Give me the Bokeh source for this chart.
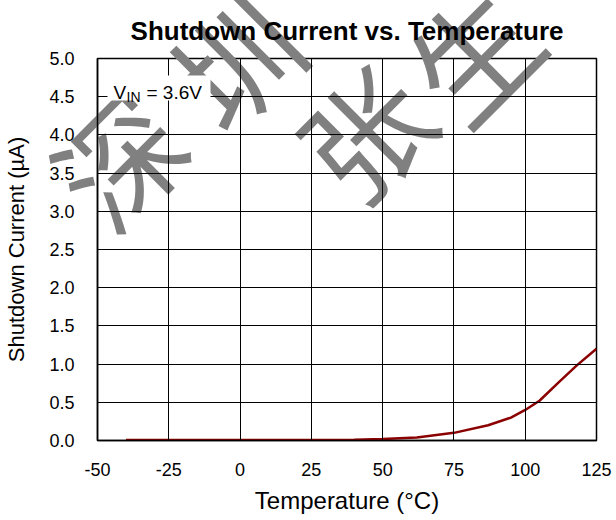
from bokeh.plotting import figure
from bokeh.models import Range1d, FixedTicker, Label, BoxAnnotation, NumeralTickFormatter
from bokeh.core.properties import value
from bokeh.embed import file_html
from bokeh.resources import INLINE

# ---- data ----
temperature_c = [-40, -25, 0, 25, 40, 50, 62, 75, 87, 95, 100, 105, 112, 118, 125]
shutdown_current_ua = [0.005, 0.005, 0.005, 0.006, 0.01, 0.02, 0.04, 0.10, 0.20, 0.30, 0.40, 0.52, 0.77, 0.98, 1.20]
x_ticks = [-50, -25, 0, 25, 50, 75, 100, 125]
y_ticks = [0.0, 0.5, 1.0, 1.5, 2.0, 2.5, 3.0, 3.5, 4.0, 4.5, 5.0]
title_text = "Shutdown Current vs. Temperature"
x_label = "Temperature (°C)"
y_label = "Shutdown Current (µA)"
watermark_chars = ["深", "圳", "张", "生"]

FONT = "Liberation Sans"
W, H = 612, 516
X0, X1, Y0, Y1 = -50, 125, 0, 5
FL, FR, FT, FB = 97, 596, 55, 443  # frame edges in canvas pixels

p = figure(width=W, height=H, output_backend="svg", toolbar_location=None,
           x_range=Range1d(X0, X1), y_range=Range1d(Y0, Y1),
           min_border_left=FL, min_border_right=W - FR, min_border_top=FT, min_border_bottom=H - FB,
           title=title_text)
p.background_fill_color = "white"
p.border_fill_color = "white"
p.outline_line_color = "black"
p.outline_line_width = 1.5

p.title.text_font = FONT
p.title.text_font_size = "26px"
p.title.text_font_style = "bold"
p.title.align = "center"
p.title.standoff = 26
p.title.text_color = "black"

for ax in (p.xaxis[0], p.yaxis[0]):
    ax.major_label_text_font = FONT
    ax.major_label_text_font_size = "18px"
    ax.major_label_text_color = "black"
    ax.axis_label_text_font = FONT
    ax.axis_label_text_font_style = "normal"
    ax.axis_label_text_color = "black"
    ax.axis_line_color = "black"
    ax.axis_line_width = 1.5
    ax.major_tick_in = 0
    ax.major_tick_out = 0
    ax.minor_tick_line_color = None

p.xaxis.ticker = FixedTicker(ticks=x_ticks)
p.yaxis.ticker = FixedTicker(ticks=y_ticks)
p.xaxis.formatter = NumeralTickFormatter(format="0")
p.yaxis.formatter = NumeralTickFormatter(format="0.0")
p.xaxis.axis_label = x_label
p.yaxis.axis_label = y_label
p.xaxis.axis_label_text_font_size = "24px"
p.yaxis.axis_label_text_font_size = "22px"
p.xaxis.major_label_standoff = 22
p.xaxis.axis_label_standoff = 8
p.yaxis.major_label_standoff = 23
p.yaxis.axis_label_standoff = 17

p.xgrid.grid_line_color = "black"
p.ygrid.grid_line_color = "black"
p.xgrid.grid_line_width = 1
p.ygrid.grid_line_width = 1
for g in (p.xgrid[0], p.ygrid[0]):
    g.level = "annotation"   # grid drawn above the watermark

# data curve
p.line(temperature_c, shutdown_current_ua, line_color="#8B0000", line_width=2.5)

# watermark (text glyph at guide level -> not clipped to the frame)
def px_to_data(px, py):
    return (X0 + (px - FL) * (X1 - X0) / (FR - FL), Y0 + (FB - py) * (Y1 - Y0) / (FB - FT))

wm_canvas = [(116, 155), (232, 55), (362, 128), (470, 48)]
wm_xy = [px_to_data(a, b) for a, b in wm_canvas]
p.text(x=[q[0] for q in wm_xy], y=[q[1] for q in wm_xy], text=watermark_chars,
       angle=45, angle_units="deg", text_font=value("Noto Sans CJK SC"),
       text_font_size=value("124px"), text_color="#808080",
       text_align="center", text_baseline="middle", level="guide")

# annotation V_IN = 3.6V with white background
p.add_layout(BoxAnnotation(left=10, right=113, top=365, bottom=340,
                           left_units="screen", right_units="screen",
                           top_units="screen", bottom_units="screen",
                           fill_color="white", fill_alpha=1.0, line_color=None))
p.add_layout(Label(x=16, y=348, x_units="screen", y_units="screen", text="V",
                   text_font=FONT, text_font_size="19px", text_color="black",
                   text_baseline="alphabetic"))
p.add_layout(Label(x=29, y=344, x_units="screen", y_units="screen", text="IN",
                   text_font=FONT, text_font_size="14px", text_color="black",
                   text_baseline="alphabetic"))
p.add_layout(Label(x=49, y=348, x_units="screen", y_units="screen", text="= 3.6V",
                   text_font=FONT, text_font_size="19px", text_color="black",
                   text_baseline="alphabetic"))

open("out.html", "w").write(file_html(p, INLINE))
